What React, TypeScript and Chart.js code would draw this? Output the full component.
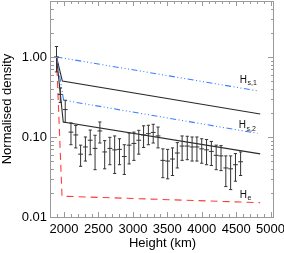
import React, { useEffect, useRef } from "react";
import { Chart, registerables } from "chart.js";

Chart.register(...registerables);

// ---- Data ----
const heights = [
  1890, 1945, 2017,
  2100, 2170, 2240, 2310, 2380, 2450, 2520, 2590, 2665, 2735, 2805, 2875,
  2945, 3015, 3085, 3155, 3225, 3295, 3365, 3435, 3505, 3575, 3645, 3715,
  3790, 3860, 3930, 4000, 4070, 4140, 4210, 4280, 4350, 4420, 4490, 4565,
];
const density = [
  1.0, 0.34, 0.22,
  0.115, 0.106, 0.061, 0.075, 0.091, 0.072, 0.119, 0.065, 0.072, 0.069, 0.07, 0.057,
  0.079, 0.083, 0.091, 0.106, 0.11, 0.114, 0.103, 0.051, 0.05, 0.053, 0.063, 0.077,
  0.077, 0.075, 0.075, 0.071, 0.069, 0.066, 0.059, 0.058, 0.041, 0.04, 0.045, 0.049,
];
const densityErr = [
  0.35, 0.07, 0.068,
  0.035, 0.033, 0.018, 0.025, 0.031, 0.033, 0.035, 0.025, 0.027, 0.034, 0.025, 0.023,
  0.033, 0.032, 0.03, 0.032, 0.03, 0.03, 0.03, 0.02, 0.02, 0.02, 0.022, 0.026,
  0.025, 0.025, 0.025, 0.024, 0.024, 0.022, 0.02, 0.02, 0.017, 0.018, 0.017, 0.016,
];
const binHalfWidth = 35;

// model curves
const hs1X = [1890, 4810];
const hs1Y = [1.0, 0.377];
const upperX = [1890, 1975, 4850];
const upperY = [1.0, 0.5, 0.194];
const hs2X = [1890, 1993, 4810];
const hs2Y = [1.0, 0.288, 0.111];
const lowerX = [1890, 1988, 4850];
const lowerY = [1.0, 0.154, 0.0615];
const heX = [1890, 1970, 4850];
const heY = [1.0, 0.0182, 0.0151];

// axes
const xMin = 1810;
const xMax = 5050;
const yMin = 0.01;
const yMax = 5;
const xTickValues = [2000, 2500, 3000, 3500, 4000, 4500, 5000];
const yTickValues = [0.01, 0.1, 1];
const yTickLabels = ["0.01", "0.10", "1.00"];

// curve labels
const labelMain = ["H", "H", "H"];
const labelSub = ["s,1", "s,2", "e"];
const labelX = [4553, 4538, 4553];
const labelY = [0.478, 0.128, 0.0173];

const FONT = "'Liberation Sans', Arial, Helvetica, sans-serif";
const BLUE = "#3d7fff";
const RED = "#ff3b3b";
const BLACK = "#2a2a2a";
const FRAME = "#9a9a9a";
const BLUE_DASH = [6, 2.5, 1, 2.5, 1, 2.5, 1, 2.5];

const toPts = (xs: number[], ys: number[]) => xs.map((x, i) => ({ x, y: ys[i] }));

const errorBarPlugin = {
  id: "errorBars",
  afterDatasetsDraw(chart: any) {
    const { ctx, chartArea } = chart;
    const x = chart.scales.x;
    const y = chart.scales.y;
    ctx.save();
    ctx.beginPath();
    ctx.rect(chartArea.left, chartArea.top, chartArea.right - chartArea.left, chartArea.bottom - chartArea.top);
    ctx.clip();
    ctx.strokeStyle = "#333";
    ctx.lineWidth = 1;
    heights.forEach((h, i) => {
      const px = x.getPixelForValue(h);
      const py = y.getPixelForValue(density[i]);
      const top = y.getPixelForValue(density[i] + densityErr[i]);
      const bot = y.getPixelForValue(Math.max(density[i] - densityErr[i], 1e-4));
      const l = x.getPixelForValue(h - binHalfWidth);
      const r = x.getPixelForValue(h + binHalfWidth);
      ctx.beginPath();
      ctx.moveTo(px, top);
      ctx.lineTo(px, bot);
      ctx.moveTo(px - 1.6, top);
      ctx.lineTo(px + 1.6, top);
      ctx.moveTo(px - 1.6, bot);
      ctx.lineTo(px + 1.6, bot);
      ctx.moveTo(l, py);
      ctx.lineTo(r, py);
      ctx.stroke();
    });
    ctx.restore();
  },
};

const framePlugin = {
  id: "frameTicks",
  afterDraw(chart: any) {
    const { ctx, chartArea } = chart;
    const x = chart.scales.x;
    const y = chart.scales.y;
    const { left, right, top, bottom } = chartArea;
    ctx.save();
    ctx.strokeStyle = FRAME;
    ctx.lineWidth = 1;
    ctx.strokeRect(Math.round(left) - 0.5, Math.round(top) + 0.5, Math.round(right - left), Math.round(bottom - top));
    ctx.beginPath();
    // x ticks
    for (let v = 1900; v <= xMax; v += 100) {
      const px = Math.round(x.getPixelForValue(v)) + 0.5;
      const len = v % 500 === 0 ? 5 : 3;
      ctx.moveTo(px, bottom);
      ctx.lineTo(px, bottom - len);
      ctx.moveTo(px, top);
      ctx.lineTo(px, top + len);
    }
    // y ticks
    for (let e = -2; e <= 0; e++) {
      for (let k = 1; k <= 9; k++) {
        const v = k * Math.pow(10, e);
        if (v < yMin || v > yMax) continue;
        const py = Math.round(y.getPixelForValue(v)) + 0.5;
        const len = k === 1 ? 6 : 3;
        ctx.moveTo(left, py);
        ctx.lineTo(left + len, py);
        ctx.moveTo(right, py);
        ctx.lineTo(right - len, py);
      }
    }
    ctx.stroke();

    // curve labels
    ctx.fillStyle = "#111";
    ctx.textBaseline = "alphabetic";
    ctx.textAlign = "left";
    labelMain.forEach((m, i) => {
      const px = x.getPixelForValue(labelX[i]);
      const py = y.getPixelForValue(labelY[i]);
      ctx.font = `10px ${FONT}`;
      ctx.fillText(m, px, py);
      const w = ctx.measureText(m).width;
      ctx.font = `7px ${FONT}`;
      ctx.fillText(labelSub[i], px + w + 0.5, py + 2.5);
    });
    ctx.restore();
  },
};

export default function App() {
  const ref = useRef<HTMLCanvasElement>(null);
  useEffect(() => {
    if (!ref.current) return;
    Chart.defaults.font.family = FONT;
    Chart.defaults.color = "#000";
    const lineDs = (label: string, xs: number[], ys: number[], color: string, dash: number[]) => ({
      label,
      data: toPts(xs, ys),
      showLine: true,
      borderColor: color,
      borderWidth: 1.1,
      borderDash: dash,
      pointRadius: 0,
      fill: false,
    });
    const chart = new Chart(ref.current, {
      type: "scatter",
      data: {
        datasets: [
          lineDs("He", heX, heY, RED, [7, 5]),
          lineDs("Hs2", hs2X, hs2Y, BLUE, BLUE_DASH),
          lineDs("Hs1", hs1X, hs1Y, BLUE, BLUE_DASH),
          lineDs("upper", upperX, upperY, BLACK, []),
          lineDs("lower", lowerX, lowerY, BLACK, []),
          {
            label: "data",
            data: toPts(heights, density),
            pointRadius: 0,
            showLine: false,
          } as any,
        ],
      },
      options: {
        animation: false,
        responsive: false,
        devicePixelRatio: 1,
        layout: { padding: { top: 1, right: 10, left: 0, bottom: 0 } },
        plugins: { legend: { display: false }, tooltip: { enabled: false } },
        scales: {
          x: {
            type: "linear",
            min: xMin,
            max: xMax,
            grid: { display: false, drawTicks: false },
            border: { display: false },
            ticks: {
              autoSkip: false,
              maxRotation: 0,
              padding: 5,
              font: { size: 13 },
              color: "#000",
              callback: (v: any) => String(v),
            },
            afterBuildTicks: (axis: any) => {
              axis.ticks = xTickValues.map((v) => ({ value: v }));
            },
            afterFit: (scale: any) => {
              scale.height = 36;
              scale.paddingLeft = 0;
              scale.paddingRight = 0;
            },
            title: {
              display: true,
              text: "Height (km)",
              font: { size: 13 },
              color: "#000",
              padding: { top: 0, bottom: 2 },
            },
          },
          y: {
            type: "logarithmic",
            min: yMin,
            max: yMax,
            grid: { display: false, drawTicks: false },
            border: { display: false },
            ticks: {
              autoSkip: false,
              padding: 4,
              font: { size: 13 },
              color: "#000",
              callback: (v: any) => {
                const idx = yTickValues.findIndex((t) => Math.abs(t - v) < 1e-9);
                return idx >= 0 ? yTickLabels[idx] : "";
              },
            },
            afterBuildTicks: (axis: any) => {
              axis.ticks = yTickValues.map((v) => ({ value: v }));
            },
            afterFit: (scale: any) => {
              scale.width = 51;
              scale.paddingTop = 0;
              scale.paddingBottom = 0;
            },
            title: {
              display: true,
              text: "Normalised density",
              font: { size: 13 },
              color: "#000",
              padding: { top: 0, bottom: 0 },
            },
          },
        },
      },
      plugins: [errorBarPlugin, framePlugin],
    } as any);
    return () => chart.destroy();
  }, []);
  return (
    <div style={{ position: "fixed", left: 0, top: 0, width: 284, height: 253, background: "#fff" }}>
      <canvas ref={ref} width={284} height={253} style={{ display: "block" }} />
    </div>
  );
}
